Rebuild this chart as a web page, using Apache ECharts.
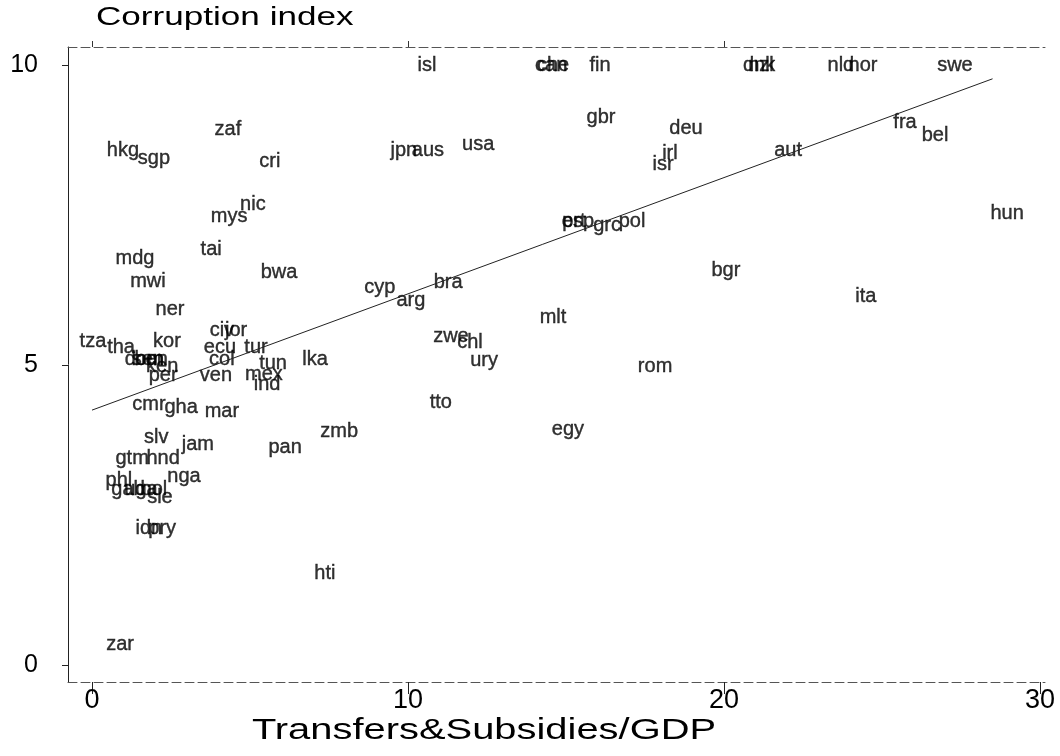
<!DOCTYPE html>
<html>
<head>
<meta charset="utf-8">
<script src="https://cdn.jsdelivr.net/npm/echarts@6.0.0/dist/echarts.min.js"></script>
<style>
  html, body { margin: 0; padding: 0; background: #fff; }
  #chart { width: 1060px; height: 756px; }
</style>
</head>
<body>
<div id="chart"></div>
<script>
// country codes, transfers & subsidies / GDP, corruption index
const codes = [
  'hkg', 'sgp', 'zaf', 'cri', 'nic', 'mys', 'tai', 'mdg', 'bwa', 'mwi',
  'cyp', 'ner', 'tza', 'tha', 'kor', 'civ', 'jor', 'ecu', 'tur', 'col',
  'dom', 'sen', 'ben', 'ken', 'per', 'ven', 'tun', 'lka', 'mex', 'ind',
  'cmr', 'gha', 'mar', 'zmb', 'slv', 'jam', 'pan', 'gtm', 'hnd', 'nga',
  'phl', 'gab', 'uga', 'bol', 'sle', 'idn', 'pry', 'hti', 'zar', 'isl',
  'can', 'che', 'fin', 'gbr', 'jpn', 'aus', 'usa', 'irl', 'isr', 'prt',
  'esp', 'grc', 'pol', 'bra', 'arg', 'mlt', 'zwe', 'chl', 'ury', 'rom',
  'tto', 'egy', 'dnk', 'nzl', 'nld', 'nor', 'swe', 'deu', 'aut', 'fra',
  'bel', 'hun', 'bgr', 'ita'
]
const transfers = [
  0.98, 1.96, 4.30, 5.63, 5.09, 4.34, 3.77, 1.36, 5.92, 1.77,
  9.11, 2.47, 0.03, 0.92, 2.37, 4.11, 4.56, 4.05, 5.19, 4.11,
  1.65, 1.77, 1.87, 2.22, 2.25, 3.92, 5.73, 7.06, 5.44, 5.54,
  1.80, 2.82, 4.11, 7.82, 2.03, 3.35, 6.11, 1.27, 2.25, 2.91,
  0.85, 1.14, 1.55, 1.96, 2.15, 1.80, 2.22, 7.37, 0.89, 10.60,
  14.53, 14.59, 16.08, 16.11, 9.87, 10.63, 12.22, 18.29, 18.07, 15.25,
  15.38, 16.30, 17.09, 11.27, 10.09, 14.59, 11.36, 11.96, 12.41, 17.82,
  11.04, 15.06, 21.11, 21.17, 23.70, 24.40, 27.31, 18.80, 22.03, 25.73,
  26.68, 28.96, 20.06, 24.49
]
const corruption = [
  8.57, 8.45, 8.93, 8.40, 7.68, 7.47, 6.92, 6.78, 6.55, 6.40,
  6.30, 5.93, 5.40, 5.30, 5.40, 5.57, 5.57, 5.30, 5.30, 5.10,
  5.10, 5.10, 5.10, 4.97, 4.82, 4.82, 5.03, 5.10, 4.85, 4.68,
  4.35, 4.30, 4.23, 3.90, 3.80, 3.68, 3.62, 3.45, 3.45, 3.15,
  3.07, 2.93, 2.93, 2.93, 2.80, 2.28, 2.28, 1.52, 0.35, 10.00,
  10.00, 10.00, 10.00, 9.13, 8.57, 8.57, 8.67, 8.53, 8.35, 7.40,
  7.40, 7.32, 7.40, 6.38, 6.07, 5.80, 5.48, 5.37, 5.07, 4.98,
  4.37, 3.93, 10.00, 10.00, 10.00, 10.00, 10.00, 8.95, 8.58, 9.05,
  8.82, 7.52, 6.58, 6.15
]

// fitted line end points
const fitX = [0, 28.5]
const fitY = [4.25, 9.77]

const xTicks = [0, 10, 20, 30]
const yTicks = [0, 5, 10]
const xTitle = 'Transfers&Subsidies/GDP'
const yTitle = 'Corruption index'

const chart = echarts.init(document.getElementById('chart'), null, { renderer: 'canvas' })

const points = codes.map((c, i) => ({ name: c, value: [transfers[i], corruption[i]] }))

const option = {
  backgroundColor: '#ffffff',
  animation: false,
  grid: { left: 68, right: 15, top: 47, bottom: 74 },
  xAxis: [{
    type: 'value',
    min: -0.76,
    max: 30.16,
    position: 'bottom',
    splitLine: { show: false },
    axisLine: { show: true, onZero: false, lineStyle: { color: '#555', width: 1, type: [9, 4] } },
    axisTick: { show: true, length: 12, customValues: xTicks, lineStyle: { color: '#222' } },
    axisLabel: {
      customValues: xTicks,
      margin: 5,
      color: '#000',
      fontFamily: 'Liberation Sans',
      fontSize: 27
    }
  }, {
    type: 'value',
    min: -0.76,
    max: 30.16,
    position: 'top',
    splitLine: { show: false },
    axisLine: { show: true, onZero: false, lineStyle: { color: '#555', width: 1, type: [9, 4] } },
    axisTick: { show: true, length: 6, customValues: [0, 10, 20], lineStyle: { color: '#333' } },
    axisLabel: { show: false }
  }],
  yAxis: {
    type: 'value',
    min: -0.28,
    max: 10.3,
    splitLine: { show: false },
    axisLine: { show: true, onZero: false, lineStyle: { color: '#222', width: 1 } },
    axisTick: { show: true, length: 6, customValues: yTicks, lineStyle: { color: '#222' } },
    axisLabel: {
      customValues: yTicks,
      margin: 30,
      color: '#000',
      fontFamily: 'Liberation Sans',
      fontSize: 25
    }
  },
  graphic: [{
    type: 'text',
    x: 96,
    y: 5,
    scaleX: 1.35,
    style: {
      text: yTitle,
      fill: '#000',
      font: '26px "Liberation Sans"',
      textAlign: 'left',
      textVerticalAlign: 'top'
    }
  }, {
    type: 'text',
    x: 484,
    y: 716,
    scaleX: 1.33,
    style: {
      text: xTitle,
      fill: '#000',
      font: '30px "Liberation Sans"',
      textAlign: 'center',
      textVerticalAlign: 'top'
    }
  }],
  series: [{
    name: 'fit',
    type: 'line',
    data: fitX.map((x, i) => [x, fitY[i]]),
    symbol: 'none',
    silent: true,
    lineStyle: { color: '#222', width: 1 }
  }, {
    name: 'countries',
    type: 'scatter',
    data: points,
    symbolSize: 1,
    itemStyle: { color: 'rgba(0,0,0,0)' },
    label: {
      show: true,
      position: 'inside',
      align: 'center',
      verticalAlign: 'middle',
      formatter: p => p.name,
      color: '#000',
      fontFamily: 'Liberation Sans',
      fontSize: 20,
      textBorderColor: '#000',
      textBorderWidth: 0.4
    },
    labelLayout: { hideOverlap: false }
  }]
}

chart.setOption(option)
</script>
</body>
</html>
